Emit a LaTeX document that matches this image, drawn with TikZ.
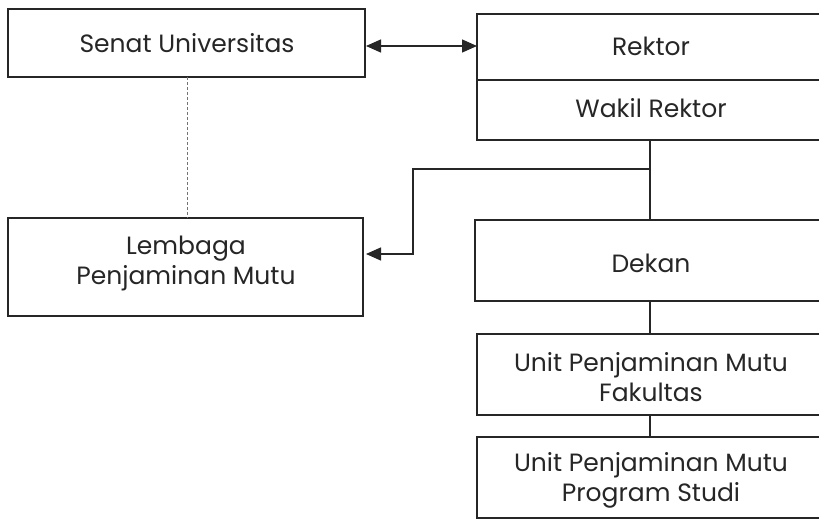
\documentclass[tikz,border=0pt]{standalone}
\usepackage{fontspec}
\setmainfont{Poppins}
\usetikzlibrary{arrows.meta}
\begin{document}
\begin{tikzpicture}[x=1pt,y=-1pt,
  box/.style={draw=black!85,line width=1.6pt,fill=white},
  lbl/.style={font=\fontsize{25}{30}\selectfont,text=black!85,align=center,inner sep=0pt},
  conn/.style={draw=black!85,line width=1.4pt},
  tip/.style={-{Triangle[length=15pt,width=13pt]}}]
\useasboundingbox (0,0) rectangle (819,521);
% boxes
\draw[box] (8,9) rectangle (365,77);
\node[lbl] (senat) at (187,43) {Senat Universitas};
\coordinate (senatR) at (366,46);
\coordinate (senatB) at (187,77);
\draw[box] (477,14) rectangle (830,80);
\draw[box] (477,80) rectangle (830,140);
\node[lbl] (rektor) at (651,46) {Rektor};
\node[lbl] (wakil) at (651,108) {Wakil Rektor};
\coordinate (rektorL) at (477,46);
\coordinate (wakilB) at (650,140);
\draw[box] (8,218) rectangle (363,316);
\node[lbl] (lpm) at (186,264) {Lembaga\\Penjaminan Mutu};
\coordinate (lpmR) at (366,254);
\coordinate (lpmT) at (187,218);
\draw[box] (475,220) rectangle (830,301);
\node[lbl] (dekan) at (651,263) {Dekan};
\coordinate (dekanT) at (650,220);
\coordinate (dekanB) at (650,301);
\draw[box] (477,334) rectangle (830,415);
\node[lbl] (upmf) at (651,377) {Unit Penjaminan Mutu\\Fakultas};
\coordinate (upmfT) at (650,334);
\coordinate (upmfB) at (650,415);
\draw[box] (477,437) rectangle (830,518);
\node[lbl] (upmp) at (651,480) {Unit Penjaminan Mutu\\Program Studi};
\coordinate (upmpT) at (650,437);
% connectors
\draw[conn,{Triangle[length=15pt,width=13pt]}-{Triangle[length=15pt,width=13pt]}] (senatR) -- (rektorL);
\draw[draw=black!55,line width=1pt,dash pattern=on 3pt off 2pt] (senatB) -- (lpmT);
\draw[conn] (wakilB) -- (dekanT);
\coordinate (br) at (650,169);
\draw[conn,tip] (br) -- (413,169) -- (413,254) -- (lpmR);
\draw[conn] (dekanB) -- (upmfT);
\draw[conn] (upmfB) -- (upmpT);
\end{tikzpicture}
\end{document}
